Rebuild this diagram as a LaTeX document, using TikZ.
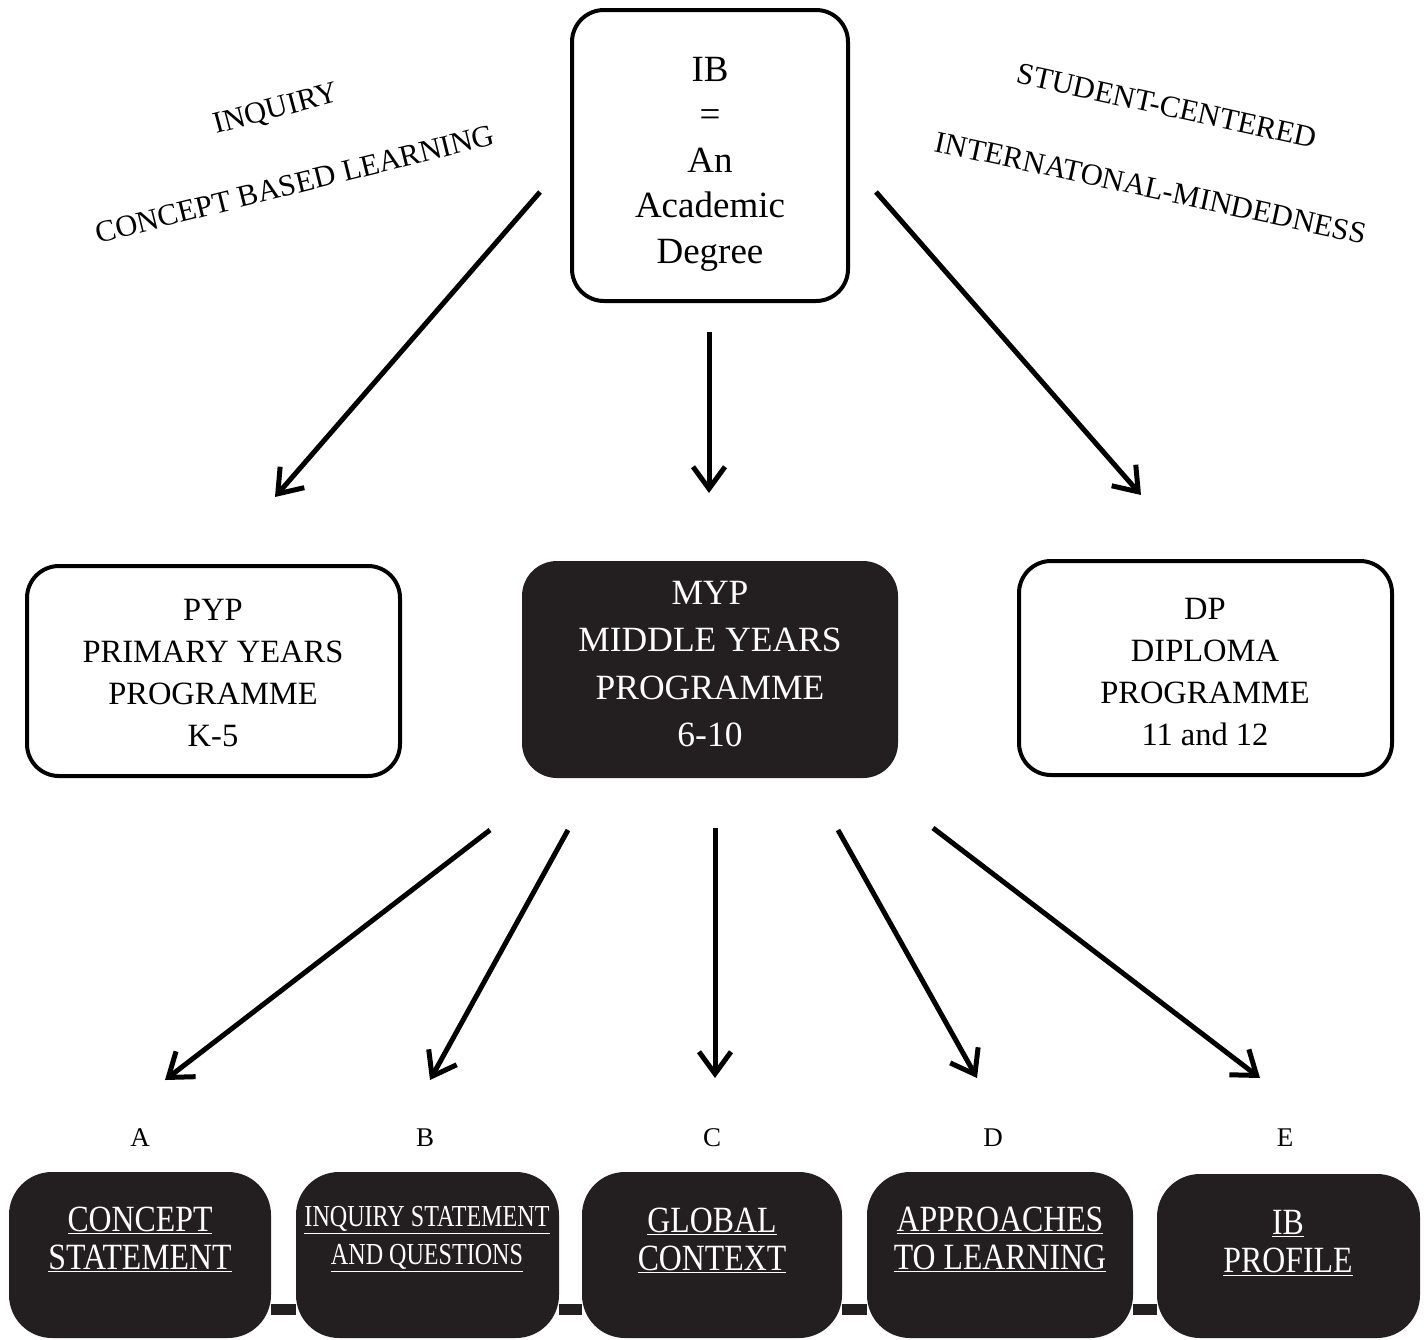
\documentclass[tikz,border=0pt]{standalone}
\usepackage{fontspec}
\setmainfont{Liberation Serif}
\newfontfamily\condfont[FakeStretch=0.86]{Liberation Serif}
\newfontfamily\condfontb[FakeStretch=0.79]{Liberation Serif}
\usetikzlibrary{arrows.meta}
\definecolor{darkfill}{RGB}{35,31,32}
\begin{document}
\begin{tikzpicture}[x=1pt,y=-1pt,
  openbox/.style={draw=black,line width=4pt,rounded corners=32pt,inner sep=0pt},
  darkbox/.style={draw=darkfill,fill=darkfill,line width=2pt,rounded corners=34pt,inner sep=0pt},
  botbox/.style={draw=darkfill,fill=darkfill,line width=2pt,rounded corners=42pt,inner sep=0pt,minimum height=164pt},
  arr/.style={line width=5pt,-{Straight Barb[length=22pt,width=32pt]}},
  bar/.style={draw=darkfill,line width=11pt},
  midtxt/.style={align=center,font=\fontsize{32.5}{42}\selectfont},
  bottxt/.style={align=center,text=white,font=\condfont\fontsize{37}{38}\selectfont},
  lettxt/.style={font=\fontsize{27}{30}\selectfont},
  slanttxt/.style={font=\fontsize{30.5}{33}\selectfont}
]
\useasboundingbox (0,0) rectangle (1426,1339);

% top box
\node[openbox,minimum width=276pt,minimum height=291pt] (ib) at (710,155.5) {};
\node[align=center,font=\fontsize{37}{45.5}\selectfont] (ibtxt) at (710,164) {IB\\=\\An\\Academic\\Degree};

% slanted labels
\node[slanttxt,rotate=15] (inq) at (276,110) {INQUIRY};
\node[slanttxt,rotate=14] (cbl) at (295,184) {CONCEPT BASED LEARNING};
\node[slanttxt,rotate=-12.4] (stc) at (1167,106) {STUDENT-CENTERED};
\node[slanttxt,rotate=-12.2] (intl) at (1151,188) {INTERNATONAL-MINDEDNESS};

% programme boxes
\node[openbox,minimum width=373pt,minimum height=210pt] (pyp) at (213.5,671) {};
\node[midtxt] (pyptxt) at (213,673) {PYP\\PRIMARY YEARS\\PROGRAMME\\K-5};
\node[darkbox,minimum width=374pt,minimum height=215pt] (myp) at (710,669.5) {};
\node[align=center,text=white,font=\fontsize{35.5}{47.5}\selectfont] (myptxt) at (710,664) {MYP\\MIDDLE YEARS\\PROGRAMME\\6-10};
\node[openbox,minimum width=373pt,minimum height=214pt] (dp) at (1205.5,668) {};
\node[midtxt] (dptxt) at (1205,672) {DP\\DIPLOMA\\PROGRAMME\\11 and 12};

% arrows from top
\coordinate (a1s) at (540,192); \coordinate (a1e) at (275,497);
\coordinate (a2s) at (709,332); \coordinate (a2e) at (709,493);
\coordinate (a3s) at (876,192); \coordinate (a3e) at (1141,495);
\draw[arr] (a1s) -- (a1e);
\draw[arr] (a2s) -- (a2e);
\draw[arr] (a3s) -- (a3e);

% arrows from MYP
\coordinate (b1s) at (490,830); \coordinate (b1e) at (165,1080);
\coordinate (b2s) at (568,830); \coordinate (b2e) at (430,1080);
\coordinate (b3s) at (715,828); \coordinate (b3e) at (715,1078);
\coordinate (b4s) at (838,830); \coordinate (b4e) at (977,1078);
\coordinate (b5s) at (933,828); \coordinate (b5e) at (1260,1078);
\draw[arr] (b1s) -- (b1e);
\draw[arr] (b2s) -- (b2e);
\draw[arr] (b3s) -- (b3e);
\draw[arr] (b4s) -- (b4e);
\draw[arr] (b5s) -- (b5e);

% letters
\node[lettxt] (la) at (140,1138) {A};
\node[lettxt] (lb) at (425,1138) {B};
\node[lettxt] (lc) at (712,1138) {C};
\node[lettxt] (ld) at (993,1138) {D};
\node[lettxt] (le) at (1285,1138) {E};

% bottom boxes
\node[botbox,minimum width=260pt] (c1) at (140,1255) {};
\node[botbox,minimum width=261pt] (c2) at (427.5,1255) {};
\node[botbox,minimum width=258pt] (c3) at (712,1255) {};
\node[botbox,minimum width=264pt] (c4) at (1000,1255) {};
\node[botbox,minimum width=261pt,minimum height=162pt] (c5) at (1288.5,1256) {};

\coordinate (ybar) at (0,1309);
\draw[bar] (c1.east |- ybar) -- (c2.west |- ybar);
\draw[bar] (c2.east |- ybar) -- (c3.west |- ybar);
\draw[bar] (c3.east |- ybar) -- (c4.west |- ybar);
\draw[bar] (c4.east |- ybar) -- (c5.west |- ybar);

\node[bottxt] (t1) at (140,1239) {\underline{CONCEPT}\\\underline{STATEMENT}};
\node[bottxt,font=\condfontb\fontsize{30.5}{38}\selectfont] (t2) at (427,1239) {\underline{INQUIRY STATEMENT}\\\underline{AND QUESTIONS}};
\node[bottxt] (t3) at (712,1240) {\underline{GLOBAL}\\\underline{CONTEXT}};
\node[bottxt] (t4) at (1000,1239) {\underline{APPROACHES}\\\underline{TO LEARNING}};
\node[bottxt] (t5) at (1288,1243) {\underline{IB}\\\underline{PROFILE}};
\end{tikzpicture}
\end{document}
